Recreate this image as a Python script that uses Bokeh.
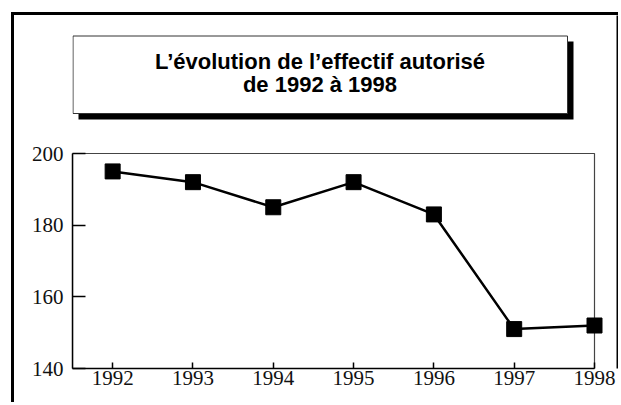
from bokeh.plotting import figure
from bokeh.models import Range1d, FixedTicker, BoxAnnotation, Label
from bokeh.embed import file_html
from bokeh.resources import INLINE

# ---- data ----
years = [1992, 1993, 1994, 1995, 1996, 1997, 1998]
effectif = [195, 192, 185, 192, 183, 151, 152]
y_ticks = [140, 160, 180, 200]
x_start, x_end = 1991.5, 1998
y_start, y_end = 140, 200
title_lines = ["L\u2019\u00e9volution de l\u2019effectif autoris\u00e9", "de 1992 \u00e0 1998"]

# ---- layout (page pixels) ----
OX, OY, BW = 11, 12, 3            # outer frame (left/top CSS borders)
CX, CY = OX + BW, OY + BW         # canvas origin on page
CW, CH = 621 - CX, 405 - CY       # canvas size (Bokeh sizes the canvas to the border box)
PL, PT, PR, PB = 72, 153, 594, 368   # plot box on page
ML = PL - CX
MB = (CY + CH) - PB
frame_w = CW - ML
frame_h = CH - MB
x_hi = x_start + frame_w * (x_end - x_start) / (PR - PL)
y_hi = y_start + frame_h * (y_end - y_start) / (PB - PT)

p = figure(width=CW - BW, height=CH - BW, output_backend="svg", toolbar_location=None,
           x_range=Range1d(x_start, x_hi), y_range=Range1d(y_start, y_hi),
           min_border_left=ML, min_border_right=0, min_border_top=0, min_border_bottom=MB,
           margin=(OY, 0, 0, OX),
           styles={"box-sizing": "content-box",
                   "border-left": f"{BW}px solid black",
                   "border-top": f"{BW}px solid black"})
p.grid.visible = False
p.outline_line_color = None
p.background_fill_color = "white"
p.border_fill_color = "white"


def sx(px):
    return px - PL


def sy(py):
    return PB - py


def screen_box(l, r, t, b, **kw):
    return BoxAnnotation(left=sx(l), right=sx(r), top=sy(t), bottom=sy(b),
                         left_units="screen", right_units="screen",
                         top_units="screen", bottom_units="screen", **kw)


# right side of the outer frame
p.add_layout(screen_box(0, 617.5, -20, 500, fill_alpha=0, line_color="black",
                        line_alpha=1, line_width=3))

# title box with shadow
p.add_layout(screen_box(78, 573, 41, 119, fill_color="black", fill_alpha=1, line_alpha=0))
p.add_layout(screen_box(72.5, 567, 35.5, 113, fill_color="white", fill_alpha=1,
                        line_color="#333333", line_alpha=1, line_width=1))
for txt, py in zip(title_lines, [61, 84]):
    p.add_layout(Label(x=sx(319.5), y=sy(py), x_units="screen", y_units="screen", text=txt,
                       text_align="center", text_baseline="middle",
                       text_font="Liberation Sans", text_font_style="bold",
                       text_font_size="22px", text_color="black"))

# plot frame (top/right thin grey lines)
p.add_layout(BoxAnnotation(left=x_start, right=x_end, bottom=y_start, top=y_end,
                           fill_alpha=0, line_color="#444444", line_alpha=1,
                           line_width=1.2, level="underlay"))

# axes
xa = p.xaxis[0]
xa.ticker = FixedTicker(ticks=years)
xa.bounds = (x_start, x_end)
xa.major_tick_in = 6
xa.major_tick_out = 0
xa.minor_tick_line_color = None
xa.axis_line_width = 1.5
xa.major_tick_line_width = 1.5
xa.major_label_text_font = "Liberation Serif"
xa.major_label_text_font_size = "21px"
xa.major_label_text_color = "#111111"
xa.major_label_standoff = 2

ya = p.yaxis[0]
ya.ticker = FixedTicker(ticks=y_ticks)
ya.bounds = (y_start, y_end)
ya.major_tick_in = 13
ya.major_tick_out = 0
ya.minor_tick_line_color = None
ya.axis_line_width = 1.5
ya.major_tick_line_width = 1.5
ya.major_label_text_font = "Liberation Serif"
ya.major_label_text_font_size = "21px"
ya.major_label_text_color = "#111111"
ya.major_label_standoff = 9

# series
p.line(years, effectif, line_color="black", line_width=2.5)
p.scatter(years, effectif, marker="square", size=15, fill_color="black", line_color="black")

open("out.html", "w").write(file_html(p, INLINE))
